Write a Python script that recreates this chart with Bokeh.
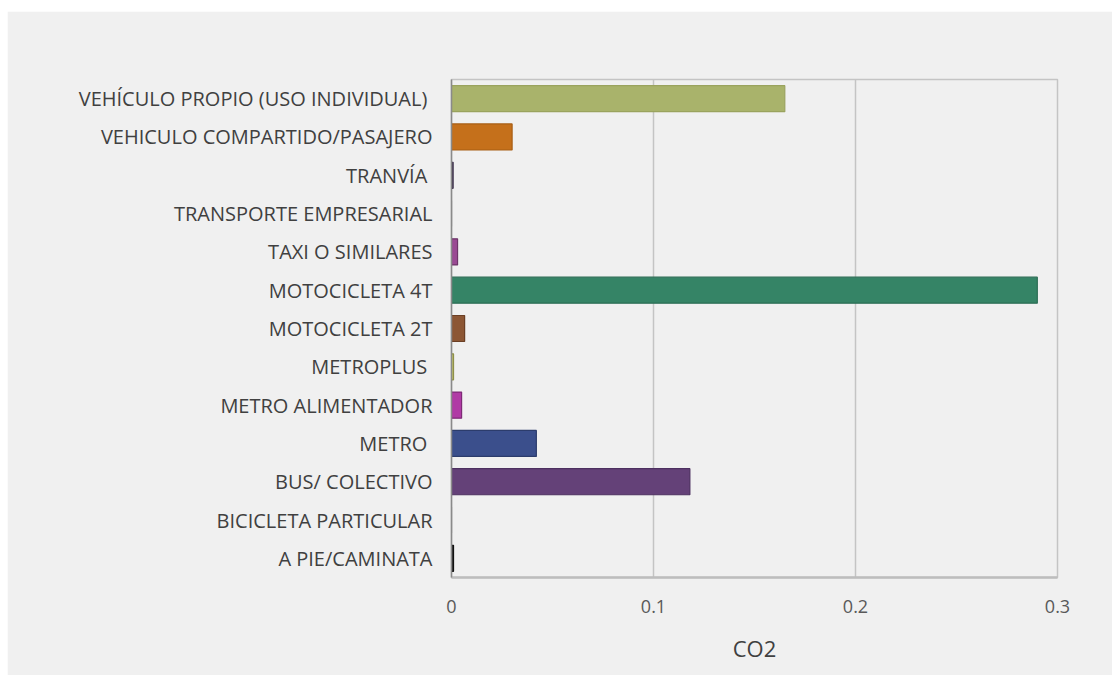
from bokeh.plotting import figure
from bokeh.models import ColumnDataSource, FactorRange, Range1d, FixedTicker, Spacer
from bokeh.layouts import column, row
from bokeh.embed import file_html
from bokeh.resources import INLINE

categories = [
    "VEHÍCULO PROPIO  (USO INDIVIDUAL)",
    "VEHICULO COMPARTIDO/PASAJERO",
    "TRANVÍA ",
    "TRANSPORTE EMPRESARIAL",
    "TAXI O SIMILARES",
    "MOTOCICLETA 4T",
    "MOTOCICLETA 2T",
    "METROPLUS ",
    "METRO ALIMENTADOR",
    "METRO ",
    "BUS/ COLECTIVO",
    "BICICLETA PARTICULAR",
    "A PIE/CAMINATA",
]
co2 = [0.165, 0.030, 0.0008, 0.0, 0.003, 0.290, 0.0065, 0.001, 0.005, 0.042, 0.118, 0.0, 0.001]
colors = ["#a9b36b", "#c5701b", "#4b3b5a", "#777777", "#9a4a93", "#358466", "#8c5634",
          "#c3c46a", "#b03aa5", "#3b4f8c", "#644178", "#777777", "#222222"]
edges = ["#9aa35e", "#a85e15", "#3a2d48", "#777777", "#6e3569", "#2c6e55", "#6b3f25",
         "#8f9048", "#7e2a77", "#2c3c6c", "#4d3060", "#777777", "#111111"]
x_ticks = [0, 0.1, 0.2, 0.3]

src = ColumnDataSource(dict(cat=categories, val=co2, color=colors, edge=edges))

BG = "#f0f0f0"
FONT = "Open Sans"

p = figure(width=1105, height=664, y_range=FactorRange(*list(reversed(categories))),
           x_range=Range1d(0, 0.3), output_backend="svg", toolbar_location=None,
           min_border_left=444, min_border_right=55, min_border_top=68, min_border_bottom=98)
p.background_fill_color = BG
p.border_fill_color = BG
p.outline_line_color = "#c4c4c4"
p.outline_line_width = 1.5

p.hbar(y="cat", right="val", left=0, height=0.68, source=src,
       fill_color="color", line_color="edge", line_width=1.2)

p.xgrid.ticker = FixedTicker(ticks=x_ticks)
p.xgrid.grid_line_color = "#c4c4c4"
p.xgrid.grid_line_width = 1.5
p.ygrid.grid_line_color = None

p.xaxis.ticker = FixedTicker(ticks=x_ticks)
p.xaxis.major_label_overrides = {0: "0", 0.1: "0.1", 0.2: "0.2", 0.3: "0.3"}
p.xaxis.axis_label = "CO2"
p.xaxis.axis_label_text_font = FONT
p.xaxis.axis_label_text_font_size = "22px"
p.xaxis.axis_label_text_font_style = "normal"
p.xaxis.axis_label_text_color = "#404040"
p.xaxis.axis_label_standoff = 17
p.xaxis.major_label_text_font = FONT
p.xaxis.major_label_text_font_size = "18px"
p.xaxis.major_label_text_color = "#595959"
p.xaxis.major_label_standoff = 16
p.xaxis.major_tick_line_color = None
p.xaxis.minor_tick_line_color = None
p.xaxis.axis_line_color = "#bdbdbd"
p.xaxis.axis_line_width = 2.5

p.yaxis.major_label_text_font = FONT
p.yaxis.major_label_text_font_size = "20px"
p.yaxis.major_label_text_color = "#404040"
p.yaxis.major_label_standoff = 13
p.yaxis.major_tick_line_color = None
p.yaxis.minor_tick_line_color = None
p.yaxis.axis_line_color = "#8a8a8a"
p.yaxis.axis_line_width = 1.5

layout = column(Spacer(height=11), row(Spacer(width=7), p))
open("out.html", "w").write(file_html(layout, INLINE))
